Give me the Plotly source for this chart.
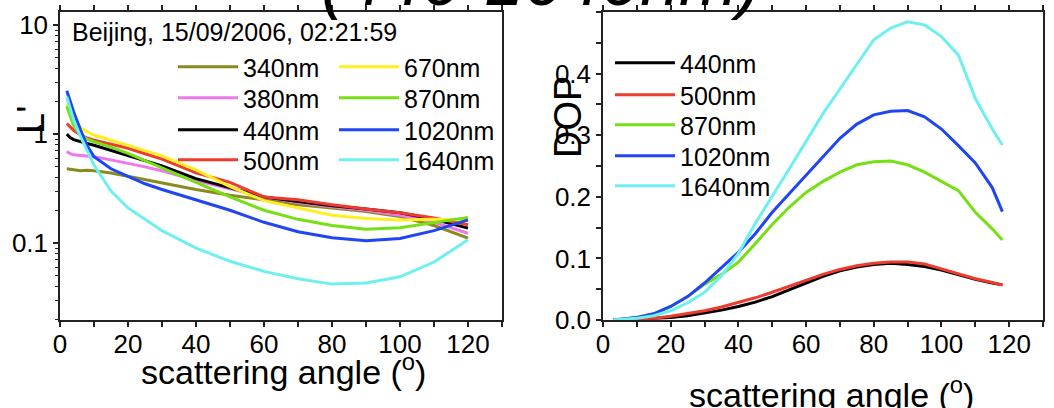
import plotly.graph_objects as go

# ---------------- data ----------------
angles_l = [2, 3, 4, 6, 8, 10, 15, 20, 25, 30, 40, 50, 60, 70, 80, 90, 100, 110, 120]
L_340 = [0.48, 0.475, 0.465, 0.46, 0.465, 0.46, 0.44, 0.41, 0.38, 0.355, 0.31, 0.275, 0.25, 0.225, 0.21, 0.195, 0.175, 0.145, 0.111]
L_380 = [0.69, 0.66, 0.645, 0.635, 0.625, 0.62, 0.58, 0.54, 0.5, 0.46, 0.375, 0.315, 0.265, 0.235, 0.215, 0.2, 0.18, 0.155, 0.123]
L_440 = [1.0, 0.93, 0.89, 0.85, 0.82, 0.79, 0.71, 0.64, 0.575, 0.51, 0.39, 0.32, 0.265, 0.24, 0.22, 0.205, 0.19, 0.165, 0.137]
L_500 = [1.25, 1.15, 1.08, 0.98, 0.92, 0.88, 0.81, 0.74, 0.66, 0.59, 0.44, 0.36, 0.265, 0.25, 0.225, 0.205, 0.19, 0.17, 0.147]
L_670 = [1.9, 1.6, 1.4, 1.15, 1.05, 0.98, 0.88, 0.79, 0.71, 0.63, 0.47, 0.33, 0.245, 0.21, 0.18, 0.168, 0.163, 0.165, 0.163]
L_870 = [1.8, 1.45, 1.2, 0.98, 0.9, 0.85, 0.76, 0.665, 0.57, 0.49, 0.36, 0.265, 0.2, 0.165, 0.145, 0.134, 0.138, 0.153, 0.172]
L_1020 = [2.5, 2.0, 1.6, 1.1, 0.78, 0.62, 0.48, 0.41, 0.35, 0.31, 0.25, 0.2, 0.155, 0.127, 0.112, 0.105, 0.11, 0.13, 0.163]
L_1640 = [2.2, 1.75, 1.35, 0.95, 0.7, 0.52, 0.3, 0.21, 0.165, 0.13, 0.09, 0.068, 0.055, 0.047, 0.042, 0.043, 0.049, 0.067, 0.107]

angles_r = [3, 5, 10, 15, 20, 25, 30, 35, 40, 45, 50, 55, 60, 65, 70, 75, 80, 85, 90, 95, 100, 105, 110, 115, 118]
DOP_440 = [0.0, 0.0005, 0.001, 0.002, 0.004, 0.007, 0.011, 0.016, 0.022, 0.029, 0.038, 0.049, 0.06, 0.071, 0.08, 0.086, 0.09, 0.092, 0.09, 0.087, 0.081, 0.073, 0.066, 0.06, 0.057]
DOP_500 = [0.0, 0.0005, 0.001, 0.003, 0.006, 0.01, 0.015, 0.021, 0.028, 0.036, 0.045, 0.055, 0.065, 0.074, 0.082, 0.088, 0.092, 0.094, 0.094, 0.091, 0.083, 0.075, 0.067, 0.061, 0.057]
DOP_870 = [0.0, 0.001, 0.004, 0.01, 0.022, 0.038, 0.058, 0.074, 0.094, 0.124, 0.155, 0.183, 0.207, 0.225, 0.24, 0.252, 0.257, 0.258, 0.252, 0.24, 0.225, 0.21, 0.175, 0.148, 0.13]
DOP_1020 = [0.0, 0.001, 0.004, 0.01, 0.022, 0.038, 0.06, 0.085, 0.11, 0.14, 0.175, 0.205, 0.235, 0.265, 0.295, 0.318, 0.333, 0.339, 0.34, 0.33, 0.31, 0.283, 0.255, 0.215, 0.176]
DOP_1640 = [0.0, 0.001, 0.003, 0.007, 0.015, 0.028, 0.045, 0.072, 0.108, 0.157, 0.2, 0.245, 0.29, 0.335, 0.375, 0.415, 0.455, 0.474, 0.484, 0.479, 0.46, 0.43, 0.36, 0.31, 0.284]

labels_left = ["340nm", "380nm", "440nm", "500nm", "670nm", "870nm", "1020nm", "1640nm"]
labels_right = ["440nm", "500nm", "870nm", "1020nm", "1640nm"]
log_ticks = [0.1, 1, 10]
log_ticktext = ["0.1", "1", "10"]
header_text = "Beijing, 15/09/2006, 02:21:59"
top_title = "(440-1640nm)"
x_title = "scattering angle (<sup>o</sup>)"

# ---------------- style ----------------
FONT = "Liberation Sans"
colors = {
    "340nm": "#8a8a1e", "380nm": "#ee77ee", "440nm": "#000000", "500nm": "#ee3b2e",
    "670nm": "#ffee22", "870nm": "#77e014", "1020nm": "#1f45f5", "1640nm": "#6ef0f0",
}
W, H = 1054, 408


def px_x(p):
    return p / W


def px_y(p):
    return 1 - p / H


def legend_key(n):
    return "legend" if n == 1 else "legend%d" % n


fig = go.Figure()
left_series = [L_340, L_380, L_440, L_500, L_670, L_870, L_1020, L_1640]
for i, (lab, ys) in enumerate(zip(labels_left, left_series)):
    fig.add_trace(go.Scatter(
        x=angles_l, y=ys, mode="lines", name=lab,
        line=dict(color=colors[lab], width=3),
        xaxis="x", yaxis="y",
        legend=legend_key(i % 4 + 1),
        legendrank=i,
    ))
right_series = [DOP_440, DOP_500, DOP_870, DOP_1020, DOP_1640]
for i, (lab, ys) in enumerate(zip(labels_right, right_series)):
    fig.add_trace(go.Scatter(
        x=angles_r, y=ys, mode="lines", name=lab,
        line=dict(color=colors[lab], width=3),
        xaxis="x2", yaxis="y2", legend=legend_key(5 + i),
    ))

axis_common = dict(
    showline=True, linecolor="#222", linewidth=1.5,
    ticks="outside", ticklen=5, tickwidth=1.5, tickcolor="#222",
    showgrid=False, zeroline=False, automargin=False,
    tickfont=dict(family=FONT, size=26, color="black"),
)
xcommon = dict(axis_common, range=[0, 130], dtick=20, tick0=0, mirror="ticks",
               ticklabelstandoff=-5,
               minor=dict(dtick=10, ticks="outside", ticklen=5, tickwidth=1.5, tickcolor="#222"))

legend_common = dict(xanchor="left", yanchor="middle", orientation="h",
                     font=dict(family=FONT, size=25), bgcolor="rgba(0,0,0,0)",
                     itemwidth=60, entrywidthmode="pixels")

layout_legends = {}
left_rows = [67, 98, 130, 160]
for r, yc in enumerate(left_rows):
    layout_legends[legend_key(r + 1)] = dict(legend_common, x=px_x(173), y=px_y(yc), entrywidth=86)
right_rows = [63, 95, 125, 156, 186]
for r, yc in enumerate(right_rows):
    layout_legends[legend_key(r + 5)] = dict(legend_common, x=px_x(610), y=px_y(yc), entrywidth=110)

fig.update_layout(
    width=W, height=H,
    margin=dict(l=0, r=0, t=0, b=0, autoexpand=False),
    paper_bgcolor="white", plot_bgcolor="white",
    font=dict(family=FONT, color="black"),
    xaxis=dict(xcommon, domain=[px_x(60), px_x(502)], anchor="y"),
    yaxis=dict(axis_common, type="log", range=[-1.706, 1.12], domain=[px_y(320), px_y(12)],
               anchor="x", mirror=True, tickvals=log_ticks, ticktext=log_ticktext,
               minor=dict(ticks="outside", ticklen=3, tickwidth=1.2, tickcolor="#222", dtick="D1")),
    xaxis2=dict(xcommon, domain=[px_x(603), px_x(1043)], anchor="y2"),
    yaxis2=dict(axis_common, range=[0, 0.5], dtick=0.1, tickformat=".1f",
                domain=[px_y(320), px_y(12)], anchor="x2", mirror=True,
                minor=dict(dtick=0.05, ticks="outside", ticklen=5, tickwidth=1.5, tickcolor="#222")),
    showlegend=True,
    annotations=[
        dict(text=header_text, xref="paper", yref="paper", x=px_x(70), y=px_y(32),
             xanchor="left", yanchor="middle", showarrow=False,
             font=dict(family=FONT, size=25, color="black")),
        dict(text="L'", xref="paper", yref="paper", x=px_x(31), y=px_y(120),
             xanchor="center", yanchor="middle", showarrow=False, textangle=-90,
             font=dict(family=FONT, size=38, color="black")),
        dict(text="DOP", xref="paper", yref="paper", x=px_x(568), y=px_y(117),
             xanchor="center", yanchor="middle", showarrow=False, textangle=-90,
             font=dict(family=FONT, size=38, color="black")),
        dict(text=x_title, xref="paper", yref="paper", x=px_x(283), y=px_y(369),
             xanchor="center", yanchor="middle", showarrow=False,
             font=dict(family=FONT, size=34, color="black")),
        dict(text=x_title, xref="paper", yref="paper", x=px_x(831), y=px_y(392),
             xanchor="center", yanchor="middle", showarrow=False,
             font=dict(family=FONT, size=34, color="black")),
        dict(text="<i>" + top_title + "</i>", xref="paper", yref="paper", x=px_x(541), y=px_y(22),
             xanchor="center", yanchor="bottom", showarrow=False,
             font=dict(family=FONT, size=70, color="black")),
    ],
    **layout_legends,
)

fig.write_html("out.html")
